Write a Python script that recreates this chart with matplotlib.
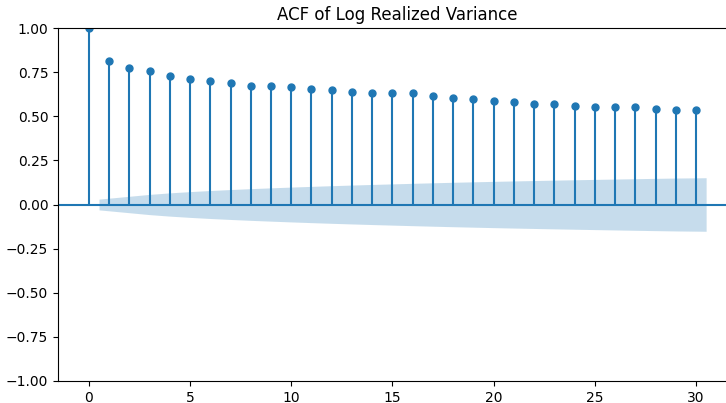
import numpy as np
import matplotlib
matplotlib.use("Agg")
import matplotlib.pyplot as plt

lags = list(range(31))
acf_values = [1.0, 0.815, 0.775, 0.756, 0.730, 0.713, 0.698, 0.687, 0.671, 0.671,
              0.665, 0.656, 0.646, 0.640, 0.633, 0.630, 0.630, 0.617, 0.604, 0.598,
              0.587, 0.579, 0.571, 0.567, 0.558, 0.554, 0.552, 0.550, 0.539, 0.537,
              0.534]
nobs = 4130
title = "ACF of Log Realized Variance"

acf = np.array(acf_values)
lag_arr = np.array(lags, dtype=float)

# Bartlett confidence band (95%)
varacf = np.ones(len(acf)) / nobs
varacf[0] = 0
varacf[1] = 1.0 / nobs
varacf[2:] *= 1 + 2 * np.cumsum(acf[1:-1] ** 2)
half = 1.959964 * np.sqrt(varacf)

fig = plt.figure(figsize=(7.26, 4.03), dpi=100)
left = 58 / 726
ax = fig.add_axes([left, 22 / 403, (737 - 58) / 726, (381 - 28) / 403])

ax.vlines(lag_arr, 0, acf, colors="C0", linewidth=1.5)
ax.plot(lag_arr, acf, marker="o", markersize=5, linestyle="None", color="C0")
ax.axhline(0, color="C0", linewidth=1.5)

band_x = lag_arr[1:].copy()
band_x[0] -= 0.5
band_x[-1] += 0.5
ax.fill_between(band_x, -half[1:], half[1:], alpha=0.25, color="C0", linewidth=0)

ax.set_xlim(-1.525, 32.025)
ax.set_ylim(-1, 1)
ax.set_yticks(np.arange(-1, 1.01, 0.25))
ax.set_xticks([0, 5, 10, 15, 20, 25, 30])
ax.set_title(title, fontsize=12)

fig.savefig("out.png", dpi=100)
